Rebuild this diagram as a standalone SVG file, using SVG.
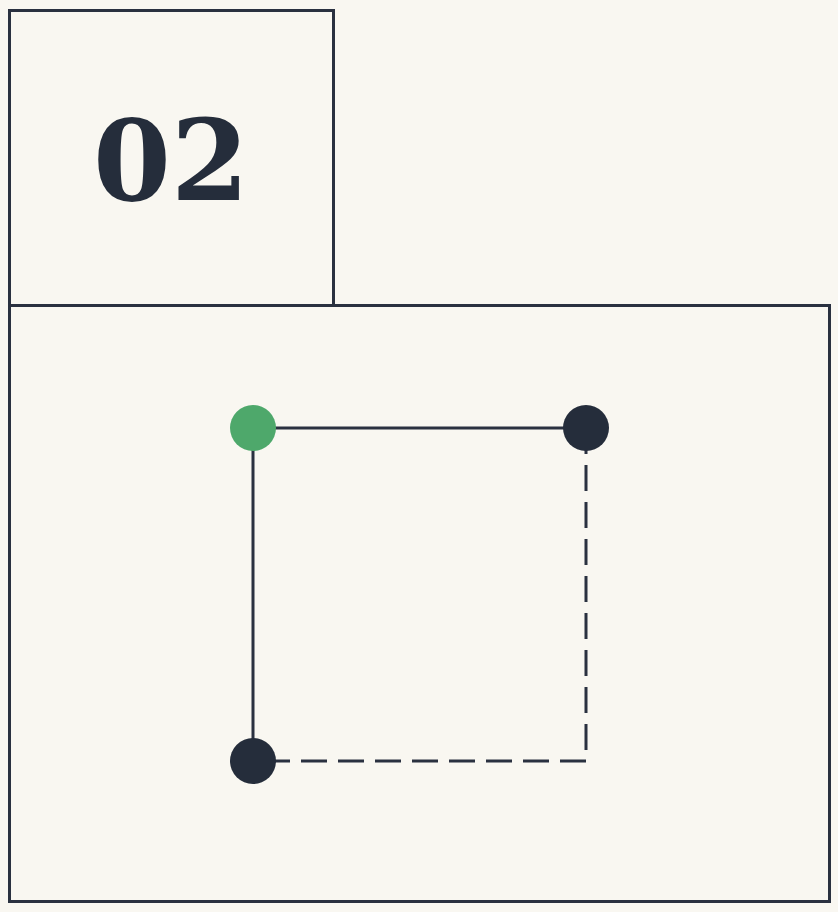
<svg xmlns="http://www.w3.org/2000/svg" width="838" height="912" viewBox="0 0 838 912">
<style>
.frame{fill:none;stroke:#2a3140;stroke-width:3}
.edge{fill:none;stroke:#2a3140;stroke-width:3}
.dash{stroke-dasharray:26 11}
.node{fill:#252d3b}
.start{fill:#4ea86b}
.num{font-family:"DejaVu Serif","Liberation Serif",serif;font-size:112px;font-weight:bold;fill:#252d3b}
</style>
<rect width="838" height="912" fill="#f9f7f1"/>
<g id="label-box">
<rect class="frame" x="9.5" y="10.5" width="324" height="295"/>
<text class="num" x="171" y="200" text-anchor="middle">02</text>
</g>
<g id="panel">
<rect class="frame" x="9.5" y="305.5" width="820" height="596"/>
</g>
<g id="connectors">
<line class="edge" x1="253" y1="428" x2="586" y2="428"/>
<line class="edge" x1="253" y1="428" x2="253" y2="761"/>
<path class="edge dash" d="M586 428 V761 H253"/>
</g>
<g id="node-a"><circle class="start" cx="253" cy="428" r="23"/></g>
<g id="node-b"><circle class="node" cx="586" cy="428" r="23"/></g>
<g id="node-c"><circle class="node" cx="253" cy="761" r="23"/></g>
</svg>
